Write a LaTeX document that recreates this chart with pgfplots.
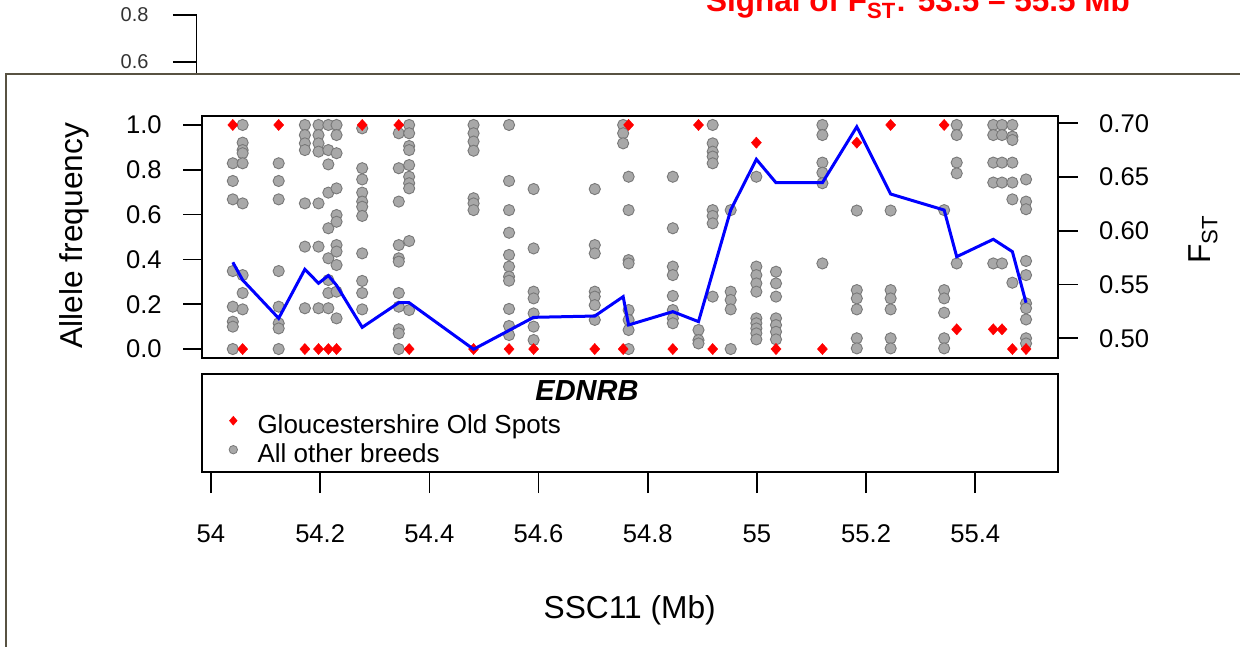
\documentclass[border=0pt]{standalone}
\usepackage{fontspec}
\setmainfont{Liberation Sans}
\usepackage{pgfplots}
\pgfplotsset{compat=1.18}
\definecolor{ptgray}{RGB}{168,168,168}
\definecolor{ptedge}{RGB}{120,120,120}
\definecolor{framec}{RGB}{88,82,66}
\newcommand{\tickfont}{\fontsize{25.6}{30}\selectfont}
\newcommand{\labfont}{\fontsize{31.7}{36}\selectfont}

\begin{document}
\begin{tikzpicture}
\useasboundingbox (0,0) rectangle (1240pt,-647pt);
\clip (0,0) rectangle (1240pt,-647pt);

% remnants of the panel behind
\node[text=red, font=\fontsize{31.5}{36}\selectfont\bfseries, anchor=base, inner sep=0pt]
  at (918pt,-12pt) {Signal of F\textsubscript{ST}: 53.5 – 55.5 Mb};
\begin{axis}[at={(196.7pt,-80pt)}, anchor=south west, scale only axis,
  width=10pt, height=65pt, xmin=0, xmax=1, ymin=0.5234, ymax=0.8,
  hide x axis, axis y line*=left, axis line style={line width=1.3pt},
  ytick={0.6,0.8}, tick align=outside, major tick length=23.7pt,
  tick style={line width=1.3pt, black},
  yticklabel style={font=\fontsize{20}{24}\selectfont, text=black!80, xshift=-21pt,
    /pgf/number format/.cd, fixed, zerofill, precision=1, assume math mode=true}]
\end{axis}

\fill[white] (6pt,-74pt) rectangle (1260pt,-670pt);
\draw[framec, line width=2pt] (6pt,-670pt) -- (6pt,-74pt) -- (1260pt,-74pt);

% allele frequencies
\begin{axis}[at={(201.7pt,-358pt)}, anchor=south west, scale only axis,
  width=856pt, height=242pt,
  xmin=53.983, xmax=55.551, ymin=-0.04, ymax=1.04,
  axis line style={line width=1.6pt}, xtick=\empty,
  ytick={0,0.2,0.4,0.6,0.8,1.0}, ytick pos=left,
  tick align=outside, major tick length=18.5pt,
  tick style={line width=1.6pt, black},
  yticklabel style={font=\tickfont, xshift=-18pt,
    /pgf/number format/.cd, fixed, zerofill, precision=1, assume math mode=true},
  ylabel={Allele frequency},
  ylabel style={font=\labfont, at={(axis description cs:-0.149,0.506)}, anchor=center},
  legend cell align=left,
  legend style={at={(axis description cs:0.0318,-0.2231)}, anchor=north west,
    draw=none, fill=none, inner sep=0pt, font=\fontsize{26}{30}\selectfont,
    nodes={inner sep=0pt, text height=21pt, text depth=8pt},
    column sep=20pt, row sep=0pt},
]
\addplot[only marks, mark=*, mark size=5.6pt, forget plot,
  mark options={fill=ptgray, draw=ptedge, line width=0.9pt}] coordinates {
(54.040,0.829) (54.040,0.75) (54.040,0.668) (54.040,0.348) (54.040,0.189) (54.040,0.122) (54.040,0.10) (54.040,0.0)
(54.058,1.0) (54.058,0.921) (54.058,0.888) (54.058,0.874) (54.058,0.829) (54.058,0.65) (54.058,0.33) (54.058,0.25) (54.058,0.177)
(54.124,0.829) (54.124,0.75) (54.124,0.668) (54.124,0.348) (54.124,0.189) (54.124,0.115) (54.124,0.092) (54.124,0.0)
(54.172,1.0) (54.172,0.955) (54.172,0.918) (54.172,0.888) (54.172,0.65) (54.172,0.457) (54.172,0.182)
(54.197,1.0) (54.197,0.955) (54.197,0.918) (54.197,0.881) (54.197,0.65) (54.197,0.457) (54.197,0.182)
(54.215,1.0) (54.215,0.888) (54.215,0.824) (54.215,0.698) (54.215,0.539) (54.215,0.405) (54.215,0.308) (54.215,0.25) (54.215,0.182)
(54.230,1.0) (54.230,0.955) (54.230,0.874) (54.230,0.717) (54.230,0.598) (54.230,0.568) (54.230,0.464) (54.230,0.435) (54.230,0.375) (54.230,0.256) (54.230,0.137)
(54.277,0.985) (54.277,0.807) (54.277,0.757) (54.277,0.698) (54.277,0.658) (54.277,0.635) (54.277,0.594) (54.277,0.427) (54.277,0.304) (54.277,0.25) (54.277,0.177)
(54.344,0.963) (54.344,0.807) (54.344,0.658) (54.344,0.464) (54.344,0.405) (54.344,0.39) (54.344,0.25) (54.344,0.189) (54.344,0.088) (54.344,0.07) (54.344,0.0)
(54.363,1.0) (54.363,0.963) (54.363,0.906) (54.363,0.888) (54.363,0.821) (54.363,0.769) (54.363,0.74) (54.363,0.717) (54.363,0.482) (54.363,0.174)
(54.481,1.0) (54.481,0.963) (54.481,0.926) (54.481,0.885) (54.481,0.673) (54.481,0.65) (54.481,0.62)
(54.546,1.0) (54.546,0.75) (54.546,0.62) (54.546,0.519) (54.546,0.42) (54.546,0.368) (54.546,0.323) (54.546,0.305) (54.546,0.179) (54.546,0.103) (54.546,0.0625)
(54.591,0.714) (54.591,0.449) (54.591,0.256) (54.591,0.226) (54.591,0.159) (54.591,0.1) (54.591,0.04)
(54.703,0.714) (54.703,0.464) (54.703,0.427) (54.703,0.256) (54.703,0.234) (54.703,0.196) (54.703,0.13)
(54.755,1.0) (54.755,0.963) (54.755,0.918)
(54.765,0.769) (54.765,0.62) (54.765,0.397) (54.765,0.382) (54.765,0.174) (54.765,0.13) (54.765,0.085) (54.765,0.0)
(54.846,0.769) (54.846,0.539) (54.846,0.368) (54.846,0.33) (54.846,0.237) (54.846,0.174) (54.846,0.137) (54.846,0.115)
(54.893,0.085) (54.893,0.04) (54.893,0.025)
(54.919,1.0) (54.919,0.918) (54.919,0.881) (54.919,0.859) (54.919,0.829) (54.919,0.62) (54.919,0.594) (54.919,0.561) (54.919,0.234)
(54.952,0.62) (54.952,0.256) (54.952,0.219) (54.952,0.177) (54.952,0.0)
(54.999,0.769) (54.999,0.368) (54.999,0.33) (54.999,0.293) (54.999,0.256) (54.999,0.137) (54.999,0.115) (54.999,0.092) (54.999,0.07) (54.999,0.043)
(55.035,0.345) (55.035,0.293) (55.035,0.234) (55.035,0.137) (55.035,0.107) (55.035,0.077) (55.035,0.043)
(55.120,1.0) (55.120,0.955) (55.120,0.832) (55.120,0.787) (55.120,0.74) (55.120,0.382)
(55.183,0.618) (55.183,0.263) (55.183,0.226) (55.183,0.177) (55.183,0.048) (55.183,0.003)
(55.245,0.618) (55.245,0.263) (55.245,0.226) (55.245,0.177) (55.245,0.048) (55.245,0.003)
(55.343,0.62) (55.343,0.263) (55.343,0.226) (55.343,0.162) (55.343,0.048) (55.343,0.003)
(55.366,1.0) (55.366,0.955) (55.366,0.832) (55.366,0.784) (55.366,0.382)
(55.433,1.0) (55.433,0.955) (55.433,0.832) (55.433,0.743) (55.433,0.382)
(55.449,1.0) (55.449,0.955) (55.449,0.832) (55.449,0.743) (55.449,0.382)
(55.468,1.0) (55.468,0.948) (55.468,0.933) (55.468,0.832) (55.468,0.743) (55.468,0.668) (55.468,0.296)
(55.493,0.757) (55.493,0.658) (55.493,0.624) (55.493,0.393) (55.493,0.33) (55.493,0.204) (55.493,0.182) (55.493,0.132) (55.493,0.048) (55.493,0.025)
};
\addplot[only marks, mark=diamond*, mark size=5.6pt, forget plot,
  mark options={fill=red, draw=red, line width=0.4pt, xscale=1.2}] coordinates {
(54.040,1) (54.058,0) (54.124,1) (54.172,0) (54.197,0) (54.215,0) (54.230,0)
(54.277,1) (54.344,1) (54.363,0) (54.481,0) (54.546,0) (54.591,0) (54.703,0)
(54.755,0) (54.765,1) (54.846,0) (54.893,1) (54.919,0) (54.999,0.921) (55.035,0)
(55.120,0) (55.183,0.921) (55.245,1) (55.343,1) (55.366,0.088) (55.433,0.088)
(55.449,0.088) (55.468,0) (55.493,0)
};
\addlegendimage{only marks, mark=diamond*, mark size=4.5pt, yshift=6pt,
  mark options={fill=red, draw=red, xscale=1.15}}
\addlegendentry{Gloucestershire Old Spots}
\addlegendimage{only marks, mark=*, mark size=4.2pt, yshift=6pt,
  mark options={fill=ptgray, draw=ptedge, line width=0.8pt}}
\addlegendentry{All other breeds}
\end{axis}

% FST
\begin{axis}[at={(201.7pt,-358pt)}, anchor=south west, scale only axis,
  width=856pt, height=242pt,
  xmin=53.983, xmax=55.551, ymin=0.48167, ymax=0.70679,
  axis x line=none, axis y line*=right, axis line style={line width=1.6pt},
  ytick={0.50,0.55,0.60,0.65,0.70},
  tick align=outside, major tick length=20pt,
  tick style={line width=1.6pt, black},
  yticklabel style={font=\tickfont, xshift=18pt,
    /pgf/number format/.cd, fixed, zerofill, precision=2, assume math mode=true},
  ylabel={F\textsubscript{ST}},
  ylabel style={font=\labfont, at={(axis description cs:1.1698,0.49)}, anchor=center},
]
\addplot[blue, line width=3pt] coordinates {
(54.040,0.5707) (54.058,0.5542) (54.124,0.5186) (54.172,0.5642) (54.197,0.5512)
(54.215,0.5583) (54.230,0.5493) (54.277,0.5102) (54.344,0.5331) (54.363,0.5331)
(54.481,0.4898) (54.591,0.5195) (54.703,0.5207) (54.755,0.5387) (54.765,0.5124)
(54.846,0.5248) (54.893,0.5155) (54.952,0.6193) (54.999,0.6665) (55.035,0.6447)
(55.120,0.6447) (55.183,0.6968) (55.245,0.6342) (55.343,0.6193) (55.366,0.5759)
(55.433,0.5921) (55.468,0.5806) (55.493,0.5331)
};
\end{axis}

% legend frame and title
\draw[black, line width=1.6pt] (201.7pt,-374pt) rectangle (1057.7pt,-472pt);
\node[font=\fontsize{29}{34}\selectfont\bfseries\itshape, anchor=base, inner sep=0pt]
  at (587pt,-400pt) {EDNRB};

% position axis below the legend
\begin{axis}[at={(201.7pt,-472pt)}, anchor=south west, scale only axis,
  width=856pt, height=10pt,
  xmin=53.983, xmax=55.551, ymin=0, ymax=1,
  hide y axis, axis line style={draw=none},
  xtick={54,54.2,54.4,54.6,54.8,55,55.2,55.4},
  xticklabels={54,54.2,54.4,54.6,54.8,55,55.2,55.4},
  xtick pos=lower, tick align=outside, major tick length=21pt,
  tick style={line width=1.6pt, black},
  xticklabel style={font=\tickfont, yshift=-28pt},
  xlabel={SSC11 (Mb)},
  xlabel style={font=\labfont, at={(axis description cs:0.5,-13.8)}, anchor=center},
]
\end{axis}
\end{tikzpicture}
\end{document}
